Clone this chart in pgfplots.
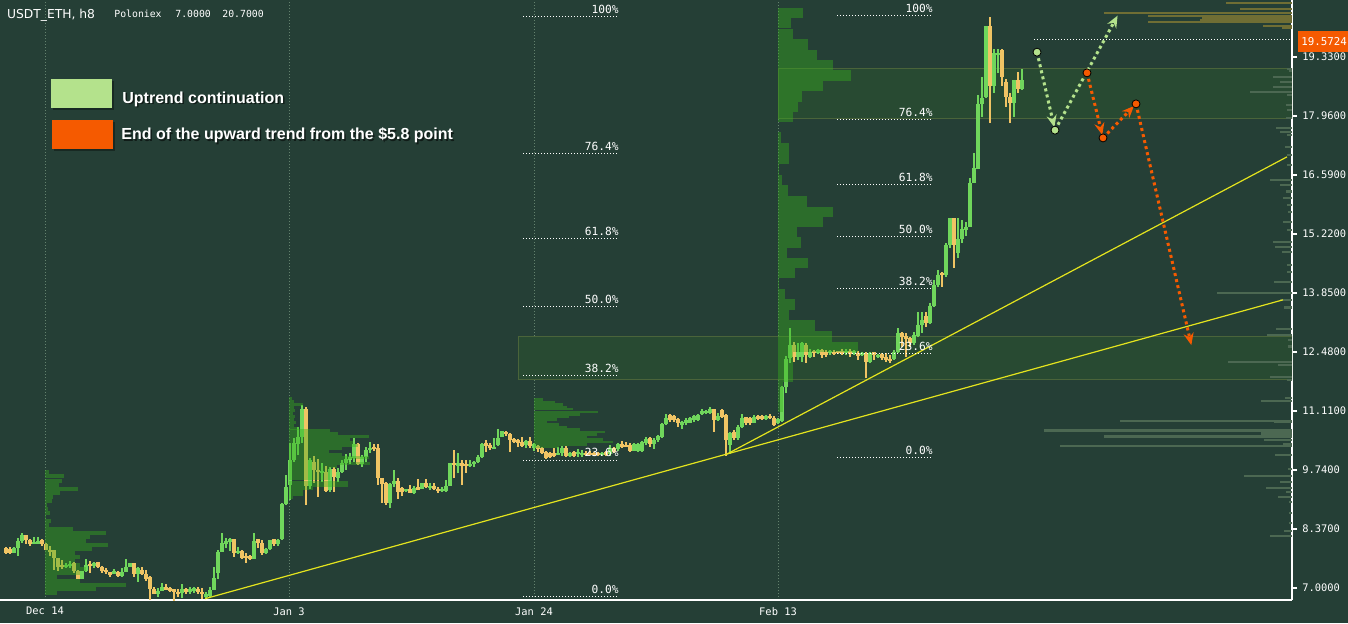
\documentclass[border=0pt]{standalone}
\usepackage{fontspec}
\setmainfont{DejaVu Sans}
\newfontfamily\monof{DejaVu Sans Mono}
\newfontfamily\legf{Liberation Sans}
\usepackage{pgfplots}
\usepackage{pgfplotstable}
\pgfplotsset{compat=1.18}
\usetikzlibrary{arrows.meta}

\definecolor{bg}{RGB}{37,63,54}
\definecolor{upc}{RGB}{112,214,92}
\definecolor{dnc}{RGB}{240,196,100}
\definecolor{vpc}{RGB}{55,175,30}
\definecolor{rvp}{RGB}{76,104,82}
\definecolor{olv}{RGB}{112,110,52}
\definecolor{zonef}{RGB}{40,74,50}
\definecolor{zoneb}{RGB}{74,100,58}
\definecolor{trend}{RGB}{228,228,30}
\definecolor{arrg}{RGB}{180,226,140}
\definecolor{arro}{RGB}{245,90,0}
\definecolor{gridc}{RGB}{100,130,110}

\newcommand\axf{\monof\fontsize{5.2}{6}\selectfont}
\newcommand\fibf{\monof\fontsize{5.6}{6.5}\selectfont}

\pgfplotstableread{
k o h l c
0 7.93 7.95 7.79 7.81
1 7.91 7.95 7.79 7.81
2 7.81 7.95 7.81 7.93
3 7.93 8.16 7.74 8.09
4 8.09 8.28 8.04 8.23
5 8.23 8.23 8.02 8.11
6 8.11 8.14 7.97 8.02
7 8.02 8.18 8.02 8.07
8 8.04 8.18 8.04 8.07
9 8.11 8.14 7.97 8.02
10 8.02 8.04 7.88 7.88
11 7.88 7.97 7.74 7.84
12 7.88 7.88 7.42 7.70
13 7.70 7.70 7.39 7.49
14 7.53 7.65 7.44 7.49
15 7.49 7.58 7.46 7.53
16 7.51 7.63 7.46 7.56
17 7.58 7.60 7.35 7.39
18 7.39 7.42 7.21 7.21
19 7.21 7.39 7.21 7.39
20 7.39 7.67 7.37 7.53
21 7.56 7.63 7.35 7.51
22 7.53 7.60 7.46 7.56
23 7.60 7.60 7.46 7.49
24 7.49 7.51 7.35 7.39
25 7.42 7.46 7.32 7.37
26 7.37 7.37 7.25 7.30
27 7.32 7.44 7.32 7.39
28 7.37 7.39 7.25 7.28
29 7.28 7.46 7.25 7.37
30 7.37 7.67 7.37 7.49
31 7.49 7.58 7.49 7.58
32 7.58 7.58 7.25 7.32
33 7.32 7.49 7.14 7.46
34 7.42 7.49 7.30 7.32
35 7.32 7.42 7.16 7.21
36 7.25 7.28 6.72 6.98
37 6.98 7.02 6.86 6.86
38 6.86 7.00 6.79 6.93
39 6.93 7.12 6.93 7.02
40 7.02 7.09 6.95 6.95
41 6.98 7.02 6.91 6.95
42 6.98 6.98 6.70 6.91
43 6.91 6.98 6.79 6.86
44 6.89 7.09 6.77 6.98
45 6.98 7.00 6.86 6.91
46 6.93 7.02 6.86 6.95
47 6.95 7.02 6.89 6.98
48 6.98 7.02 6.86 6.91
49 6.91 7.00 6.75 6.86
50 6.79 6.91 6.75 6.86
51 6.82 7.02 6.79 6.95
52 6.95 7.49 6.95 7.23
53 7.35 7.88 7.21 7.84
54 7.84 8.28 7.84 8.04
55 8.04 8.16 7.93 8.07
56 8.07 8.16 7.86 8.14
57 8.14 8.14 7.72 7.81
58 7.81 7.95 7.79 7.86
59 7.86 7.88 7.67 7.70
60 7.74 7.81 7.58 7.70
61 7.74 7.77 7.65 7.67
62 7.67 8.28 7.67 8.09
63 8.14 8.14 7.93 8.04
64 8.04 8.11 7.77 7.81
65 7.81 7.93 7.79 7.91
66 7.91 8.11 7.88 8.11
67 8.14 8.14 7.97 8.02
68 8.02 8.14 7.97 8.11
69 8.14 8.97 8.11 8.95
70 8.95 9.62 8.93 9.35
71 9.39 10.37 9.04 9.97
72 9.97 10.48 9.92 10.37
73 10.34 10.74 10.09 10.51
74 10.51 11.25 10.37 11.15
75 11.15 11.20 8.93 9.37
76 9.37 10.02 9.30 9.97
77 9.92 10.06 9.44 9.74
78 9.74 9.99 9.11 9.69
79 9.69 9.90 9.46 9.71
80 9.69 9.83 9.23 9.25
81 9.28 9.81 9.23 9.76
82 9.76 9.81 9.23 9.58
83 9.55 9.78 9.46 9.69
84 9.69 9.97 9.67 9.90
85 9.90 10.11 9.74 9.99
86 9.99 10.13 9.88 10.02
87 10.02 10.48 9.92 10.34
88 10.34 10.37 9.85 9.88
89 9.88 10.09 9.81 10.04
90 10.04 10.27 9.92 10.20
91 10.20 10.39 10.13 10.25
92 10.25 10.34 10.18 10.23
93 10.25 10.34 9.39 9.55
94 9.55 9.55 8.97 9.41
95 9.44 9.46 8.93 8.97
96 8.97 9.44 8.85 9.41
97 9.41 9.74 9.35 9.48
98 9.48 9.55 9.06 9.23
99 9.32 9.35 9.13 9.23
100 9.25 9.30 9.23 9.28
101 9.30 9.39 9.21 9.21
102 9.21 9.37 9.18 9.32
103 9.32 9.53 9.28 9.30
104 9.30 9.44 9.30 9.44
105 9.44 9.53 9.32 9.35
106 9.32 9.44 9.28 9.35
107 9.37 9.44 9.28 9.30
108 9.30 9.35 9.21 9.25
109 9.25 9.35 9.23 9.28
110 9.25 9.51 9.23 9.37
111 9.37 9.90 9.37 9.90
112 9.90 10.20 9.55 9.85
113 9.85 10.13 9.67 9.88
114 9.88 9.97 9.39 9.85
115 9.88 9.97 9.67 9.83
116 9.83 9.97 9.81 9.88
117 9.90 9.95 9.81 9.92
118 9.92 10.09 9.90 10.04
119 10.04 10.37 10.02 10.34
120 10.34 10.44 10.16 10.32
121 10.32 10.37 10.20 10.25
122 10.23 10.48 10.23 10.25
123 10.32 10.69 10.30 10.48
124 10.51 10.65 10.51 10.65
125 10.60 10.65 10.53 10.58
126 10.58 10.60 10.16 10.44
127 10.46 10.48 10.37 10.39
128 10.44 10.46 10.27 10.37
129 10.39 10.51 10.27 10.30
130 10.32 10.44 10.25 10.41
131 10.41 10.51 10.25 10.30
132 10.25 10.37 10.18 10.34
133 10.30 10.32 10.16 10.23
134 10.25 10.27 10.11 10.13
135 10.16 10.18 9.99 10.02
136 10.13 10.16 10.02 10.04
137 10.13 10.25 10.04 10.06
138 10.11 10.27 10.09 10.13
139 10.13 10.30 10.06 10.25
140 10.25 10.30 10.04 10.06
141 10.06 10.16 10.04 10.13
142 10.16 10.18 10.04 10.06
143 10.11 10.23 10.04 10.16
144 10.09 10.20 10.04 10.13
145 10.13 10.18 10.06 10.09
146 10.13 10.18 10.09 10.09
147 10.13 10.16 10.06 10.09
148 10.13 10.16 10.06 10.09
149 10.09 10.16 10.06 10.13
150 10.16 10.18 10.06 10.09
151 10.11 10.32 10.06 10.25
152 10.25 10.27 10.13 10.16
153 10.23 10.37 10.18 10.34
154 10.34 10.41 10.25 10.27
155 10.32 10.39 10.27 10.27
156 10.32 10.37 10.16 10.18
157 10.18 10.37 10.18 10.34
158 10.18 10.37 10.16 10.34
159 10.18 10.41 10.16 10.39
160 10.37 10.51 10.32 10.46
161 10.48 10.51 10.27 10.34
162 10.34 10.48 10.23 10.44
163 10.44 10.55 10.39 10.53
164 10.51 10.83 10.48 10.81
165 10.81 11.04 10.78 10.95
166 11.02 11.04 10.85 10.90
167 10.99 11.02 10.85 10.90
168 10.92 10.95 10.74 10.83
169 10.81 10.88 10.69 10.83
170 10.83 10.95 10.78 10.90
171 10.83 10.97 10.83 10.95
172 10.90 11.02 10.85 10.99
173 10.90 11.04 10.88 11.02
174 11.06 11.15 11.02 11.09
175 11.06 11.13 11.04 11.11
176 11.06 11.20 11.04 11.15
177 11.15 11.15 10.62 10.90
178 10.90 11.06 10.88 10.99
179 11.13 11.15 10.95 10.97
180 11.02 11.04 10.06 10.44
181 10.32 10.62 10.11 10.60
182 10.62 10.67 10.44 10.48
183 10.48 10.78 10.44 10.74
184 10.74 11.04 10.72 10.95
185 10.97 10.97 10.78 10.83
186 10.95 10.97 10.78 10.83
187 10.83 11.02 10.83 10.97
188 10.99 11.02 10.90 10.92
189 10.99 11.02 10.90 10.92
190 10.92 11.02 10.90 10.99
191 10.99 11.04 10.92 10.95
192 10.95 10.99 10.76 10.78
193 10.83 10.95 10.81 10.92
194 10.88 11.69 10.85 11.67
195 11.67 12.39 11.53 12.32
196 12.34 13.04 12.22 12.64
197 12.64 12.71 12.25 12.36
198 12.36 12.69 12.29 12.48
199 12.36 12.71 12.25 12.69
200 12.64 12.69 12.22 12.41
201 12.36 12.55 12.34 12.48
202 12.48 12.53 12.36 12.46
203 12.46 12.55 12.43 12.53
204 12.53 12.55 12.34 12.41
205 12.48 12.53 12.36 12.41
206 12.46 12.53 12.41 12.48
207 12.48 12.53 12.41 12.43
208 12.48 12.50 12.43 12.46
209 12.50 12.55 12.41 12.46
210 12.46 12.55 12.41 12.50
211 12.50 12.55 12.36 12.43
212 12.43 12.53 12.41 12.50
213 12.46 12.50 12.29 12.39
214 12.41 12.48 12.39 12.46
215 12.46 12.48 11.88 12.25
216 12.25 12.48 12.22 12.46
217 12.48 12.48 12.29 12.41
218 12.36 12.43 12.34 12.41
219 12.43 12.46 12.29 12.34
220 12.36 12.46 12.25 12.29
221 12.32 12.41 12.22 12.27
222 12.32 12.53 12.29 12.48
223 12.48 13.04 12.46 12.92
224 12.92 12.94 12.60 12.83
225 12.85 12.92 12.36 12.78
226 12.80 12.83 12.60 12.69
227 12.69 12.94 12.64 12.87
228 12.85 13.41 12.83 13.11
229 13.11 13.41 12.92 13.22
230 13.32 13.41 13.06 13.15
231 13.15 13.62 13.13 13.55
232 13.55 14.15 13.52 14.04
233 14.04 14.38 13.99 14.27
234 14.31 14.34 13.99 14.27
235 14.27 15.01 14.22 14.96
236 14.96 15.59 14.89 15.59
237 15.59 15.59 14.43 14.96
238 14.78 15.59 14.66 15.10
239 15.10 15.54 15.01 15.34
240 15.31 15.50 15.17 15.38
241 15.38 16.52 15.38 16.40
242 16.40 17.10 16.40 16.75
243 16.73 18.45 16.73 18.24
244 18.24 18.86 17.94 18.38
245 18.40 20.05 18.38 20.05
246 20.05 20.26 17.80 18.66
247 18.66 19.51 18.49 19.42
248 19.38 19.51 18.96 19.42
249 19.49 19.51 18.66 18.86
250 18.75 18.82 18.17 18.40
251 18.40 18.49 17.80 18.26
252 18.26 18.80 17.94 18.80
253 18.80 18.98 18.49 18.59
254 18.59 19.05 18.56 18.80
}\candles

% volume profile Dec 14 (price, length in bars)
\pgfplotstableread{
p v
9.69 1
9.60 4.75
9.48 4.25
9.39 3.5
9.30 8.25
9.21 3.75
9.11 2
9.02 1.75
8.93 0.5
8.83 0.75
8.74 1.25
8.65 0.25
8.55 1.5
8.46 1
8.37 7
8.28 15.25
8.18 11.25
8.09 10.25
8.00 15.75
7.91 11.75
7.81 7.5
7.72 8.75
7.63 7.5
7.53 8.75
7.44 10.25
7.35 8.75
7.25 3
7.16 8.75
7.07 20.25
6.98 12.75
6.88 3
}\vpA

\pgfplotstableread{
p v
11.41 0.75
11.34 1.25
11.27 3.5
11.20 1.25
11.13 1.5
11.06 1
10.99 1.5
10.92 1.25
10.85 1.75
10.78 1.25
10.71 2.5
10.65 10.25
10.58 12.25
10.51 20
10.44 15.25
10.37 16
10.30 17.25
10.23 13.25
10.16 10
10.09 13.25
10.02 20
9.95 15
9.88 20.25
9.81 12
9.74 10.25
9.67 10.25
9.60 10.25
9.53 10.25
9.46 14.75
9.39 14.75
9.32 6
9.25 3.5
9.18 3.5
9.11 1
}\vpB

\pgfplotstableread{
p v
11.38 2.25
11.32 5.25
11.26 7.25
11.20 8.25
11.15 9.75
11.09 16
11.03 11.5
10.97 8.75
10.91 5.75
10.85 3.25
10.80 6.25
10.74 8.25
10.68 11.5
10.62 17.75
10.56 15.75
10.51 13.25
10.45 17.25
10.39 19.75
10.33 13.25
10.27 6.25
}\vpC

\pgfplotstableread{
p v
20.35 6.25
20.12 3.25
19.86 3.75
19.62 7.5
19.38 9.75
19.14 13.75
18.90 18.25
18.66 11.25
18.41 6
18.17 5
17.94 3.75
17.46 0.75
17.22 2.75
16.97 2.75
16.72 0.25
16.47 1
16.23 2.5
15.97 7.25
15.73 13.75
15.50 11.25
15.27 4.75
15.02 5.75
14.78 2.25
14.55 7.5
14.31 4.25
14.07 0.25
13.83 1.75
13.58 4.25
13.34 2.75
13.09 9.25
12.84 13.5
12.60 20
12.36 3.75
12.13 3.75
11.90 3.75
11.67 1.25
11.43 1.25
11.20 1.25
}\vpD

\pgfplotstableread{
p v
19.05 1.25
19.00 0.75
18.86 4.75
18.75 3
18.63 4.75
18.52 10.5
18.45 1.25
18.21 1.5
18.10 1.25
17.91 1.5
17.68 4
17.59 3
17.52 1.25
17.24 1.75
17.05 1.25
16.82 1.25
16.47 5.5
16.36 3
16.21 1.5
16.05 2.25
15.89 1.25
15.73 1
15.50 2.25
15.31 1.25
15.03 4.75
14.92 4.25
14.80 2.5
14.50 1.25
14.34 1.25
14.10 4.5
13.85 18.75
13.69 3
13.51 2
13.01 4
12.87 6.25
12.76 1
12.60 1
12.25 16
12.18 3.5
11.90 5.5
11.83 1.25
11.41 1.75
11.34 7.75
10.88 43
10.85 4.5
10.65 62
10.58 7.75
10.51 47
10.44 7
10.34 2.25
10.30 58
10.09 4.25
9.76 1
9.60 12
9.46 3
9.32 6.5
9.23 1.5
9.11 3.5
9.00 0.75
8.74 0.75
8.51 0.75
8.32 2
8.21 5.5
}\vpR

\pgfplotstableread{
p v
20.58 16.5
20.44 13
20.35 47
20.28 36
20.23 22.5
20.19 23
20.14 36
20.05 7.25
20.00 2.5
}\vpO

\begin{document}
\begin{tikzpicture}
\fill[bg] (0,0) rectangle (674pt,311.5pt);
\begin{axis}[
  at={(0pt,11.5pt)}, anchor=south west, scale only axis,
  width=646pt, height=300pt,
  xmin=-1.5, xmax=321.5, ymin=6.72, ymax=20.652,
  axis x line*=bottom, axis y line*=right,
  axis line style={white, line width=0.6pt, -},
  ytick={7,8.37,9.74,11.11,12.48,13.85,15.22,16.59,17.96,19.33},
  /pgf/number format/assume math mode=true,
  yticklabel style={/pgf/number format/.cd, fixed, fixed zerofill, precision=4, /tikz/.cd,
     font=\axf, text=white, anchor=west, inner sep=0pt, xshift=2.5pt},
  xtick={9.75,70.75,132,193},
  xticklabels={Dec 14, Jan 3, Jan 24, Feb 13},
  xticklabel style={font=\axf, text=white, anchor=north, inner sep=0pt, yshift=-1pt},
  xtick style={draw=none},
  ytick style={white, line width=0.6pt},
  major tick length=2.5pt, tick align=outside,
  xmajorgrids,
  major grid style={gridc, line width=0.5pt, dash pattern=on 0.5pt off 1pt},
]
% zones
\addplot[fill=zonef, draw=zoneb, line width=0.5pt] coordinates {(193,17.91) (321.5,17.91) (321.5,19.07) (193,19.07)} -- cycle;
\addplot[fill=zonef, draw=zoneb, line width=0.5pt] coordinates {(128,11.85) (321.5,11.85) (321.5,12.85) (128,12.85)} -- cycle;

% candles: wicks
\addplot[draw=none, mark=none, restrict expr to domain={\thisrow{c}-\thisrow{o}}{0:100},
  error bars/.cd, y dir=both, y explicit, error mark=none, error bar style={draw=upc, line width=0.55pt}]
  table[x=k, y expr={(\thisrow{h}+\thisrow{l})/2}, y error expr={(\thisrow{h}-\thisrow{l})/2}] {\candles};
\addplot[draw=none, mark=none, restrict expr to domain={\thisrow{c}-\thisrow{o}}{-100:-0.001},
  error bars/.cd, y dir=both, y explicit, error mark=none, error bar style={draw=dnc, line width=0.55pt}]
  table[x=k, y expr={(\thisrow{h}+\thisrow{l})/2}, y error expr={(\thisrow{h}-\thisrow{l})/2}] {\candles};
% candles: bodies
\addplot[draw=none, mark=none, restrict expr to domain={\thisrow{c}-\thisrow{o}}{0:100},
  error bars/.cd, y dir=both, y explicit, error mark=none, error bar style={draw=upc, line width=1.6pt}]
  table[x=k, y expr={(\thisrow{o}+\thisrow{c})/2}, y error expr={max(abs(\thisrow{c}-\thisrow{o})/2,0.025)}] {\candles};
\addplot[draw=none, mark=none, restrict expr to domain={\thisrow{c}-\thisrow{o}}{-100:-0.001},
  error bars/.cd, y dir=both, y explicit, error mark=none, error bar style={draw=dnc, line width=1.6pt}]
  table[x=k, y expr={(\thisrow{o}+\thisrow{c})/2}, y error expr={max(abs(\thisrow{c}-\thisrow{o})/2,0.025)}] {\candles};

% volume profiles
\addplot[draw=none, mark=none, error bars/.cd, x dir=plus, x explicit, error mark=none,
  error bar style={draw=vpc, line width=2pt, opacity=0.42}] table[x expr=9.75, y=p, x error=v] {\vpA};
\addplot[draw=none, mark=none, error bars/.cd, x dir=plus, x explicit, error mark=none,
  error bar style={draw=vpc, line width=1.5pt, opacity=0.42}] table[x expr=70.75, y=p, x error=v] {\vpB};
\addplot[draw=none, mark=none, error bars/.cd, x dir=plus, x explicit, error mark=none,
  error bar style={draw=vpc, line width=1.25pt, opacity=0.42}] table[x expr=132, y=p, x error=v] {\vpC};
\addplot[draw=none, mark=none, error bars/.cd, x dir=plus, x explicit, error mark=none,
  error bar style={draw=vpc, line width=5.2pt, opacity=0.42}] table[x expr=193, y=p, x error=v] {\vpD};
\addplot[draw=none, mark=none, error bars/.cd, x dir=minus, x explicit, error mark=none,
  error bar style={draw=rvp, line width=1.3pt}] table[x expr=321.5, y=p, x error=v] {\vpR};
\addplot[draw=none, mark=none, error bars/.cd, x dir=minus, x explicit, error mark=none,
  error bar style={draw=olv, line width=0.7pt}] table[x expr=321.5, y=p, x error=v] {\vpO};

% trend lines
\addplot[trend, line width=0.6pt] coordinates {(49.75,6.75) (319.25,13.69)};
\addplot[trend, line width=0.6pt] coordinates {(180.25,10.11) (320.25,17.01)};

% fibonacci set 1
\pgfplotsset{fibl/.style={white, line width=0.5pt, dash pattern=on 0.5pt off 1pt}}
\addplot[fibl] coordinates {(129.25,6.79) (153.25,6.79)};
\addplot[fibl] coordinates {(129.25,9.97) (153.25,9.97)};
\addplot[fibl] coordinates {(129.25,11.94) (153.25,11.94)};
\addplot[fibl] coordinates {(129.25,13.53) (153.25,13.53)};
\addplot[fibl] coordinates {(129.25,15.12) (153.25,15.12)};
\addplot[fibl] coordinates {(129.25,17.08) (153.25,17.08)};
\addplot[fibl] coordinates {(129.25,20.26) (153.25,20.26)};
\node[anchor=south east, inner sep=0pt, yshift=1.3pt, font=\fibf, text=white] at (axis cs:153.25,6.79) {0.0\%};
\node[anchor=south east, inner sep=0pt, yshift=1.3pt, font=\fibf, text=white] at (axis cs:153.25,9.97) {23.6\%};
\node[anchor=south east, inner sep=0pt, yshift=1.3pt, font=\fibf, text=white] at (axis cs:153.25,11.94) {38.2\%};
\node[anchor=south east, inner sep=0pt, yshift=1.3pt, font=\fibf, text=white] at (axis cs:153.25,13.53) {50.0\%};
\node[anchor=south east, inner sep=0pt, yshift=1.3pt, font=\fibf, text=white] at (axis cs:153.25,15.12) {61.8\%};
\node[anchor=south east, inner sep=0pt, yshift=1.3pt, font=\fibf, text=white] at (axis cs:153.25,17.08) {76.4\%};
\node[anchor=south east, inner sep=0pt, yshift=1.3pt, font=\fibf, text=white] at (axis cs:153.25,20.26) {100\%};
% fibonacci set 2
\addplot[fibl] coordinates {(207.75,10.02) (231.75,10.02)};
\addplot[fibl] coordinates {(207.75,12.45) (231.75,12.45)};
\addplot[fibl] coordinates {(207.75,13.95) (231.75,13.95)};
\addplot[fibl] coordinates {(207.75,15.16) (231.75,15.16)};
\addplot[fibl] coordinates {(207.75,16.37) (231.75,16.37)};
\addplot[fibl] coordinates {(207.75,17.87) (231.75,17.87)};
\addplot[fibl] coordinates {(207.75,20.30) (231.75,20.30)};
\node[anchor=south east, inner sep=0pt, yshift=1.3pt, font=\fibf, text=white] at (axis cs:231.75,10.02) {0.0\%};
\node[anchor=south east, inner sep=0pt, yshift=1.3pt, font=\fibf, text=white] at (axis cs:231.75,12.45) {23.6\%};
\node[anchor=south east, inner sep=0pt, yshift=1.3pt, font=\fibf, text=white] at (axis cs:231.75,13.95) {38.2\%};
\node[anchor=south east, inner sep=0pt, yshift=1.3pt, font=\fibf, text=white] at (axis cs:231.75,15.16) {50.0\%};
\node[anchor=south east, inner sep=0pt, yshift=1.3pt, font=\fibf, text=white] at (axis cs:231.75,16.37) {61.8\%};
\node[anchor=south east, inner sep=0pt, yshift=1.3pt, font=\fibf, text=white] at (axis cs:231.75,17.87) {76.4\%};
\node[anchor=south east, inner sep=0pt, yshift=1.3pt, font=\fibf, text=white] at (axis cs:231.75,20.30) {100\%};

% last price line
\addplot[white, line width=0.5pt, dash pattern=on 0.5pt off 1pt] coordinates {(257,19.74) (321.5,19.74)};

% scenario arrows
\pgfplotsset{arr/.style={line width=1.5pt, dash pattern=on 1.5pt off 1.6pt, -{Stealth[length=6pt,width=5pt]}, shorten >=1.5pt}}
\addplot[arrg, arr] coordinates {(257.75,19.44) (262.25,17.63)};
\addplot[arrg, arr] coordinates {(262.25,17.63) (278.25,20.35)};
\addplot[only marks, mark=*, mark size=2pt, mark options={draw=none, fill=arrg}] coordinates {(257.75,19.44) (262.25,17.63)};
\addplot[arro, arr] coordinates {(270.25,18.96) (274.25,17.45)};
\addplot[arro, arr] coordinates {(274.25,17.45) (282.5,18.24)};
\addplot[arro, arr] coordinates {(282.5,18.24) (296.5,12.57)};
\addplot[only marks, mark=*, mark size=2pt, mark options={draw=none, fill=arro}] coordinates {(270.25,18.96) (274.25,17.45) (282.5,18.24)};
\end{axis}

% overlays in pixel coordinates
\begin{scope}[x=0.5pt, y=-0.5pt, yshift=311.5pt]
\node[anchor=base west, inner sep=0pt, font=\fontsize{6.15}{7}\selectfont, text=white] at (6.7,18.3) {USDT\_ETH, h8};
\node[anchor=base west, inner sep=0pt, font=\monof\fontsize{4.9}{6}\selectfont, text=white] at (114,17.7) {Poloniex};
\node[anchor=base west, inner sep=0pt, font=\monof\fontsize{4.9}{6}\selectfont, text=white] at (175,17.7) {7.0000};
\node[anchor=base west, inner sep=0pt, font=\monof\fontsize{4.9}{6}\selectfont, text=white] at (222,17.7) {20.7000};
% legend
\fill[black, opacity=0.35] (53,81) rectangle (114,110);
\fill[arrg] (51,79) rectangle (112,108);
\fill[black, opacity=0.35] (54,122) rectangle (115,151);
\fill[arro] (52,120) rectangle (113,149);
\node[anchor=base west, inner sep=0pt, font=\legf\bfseries\fontsize{8}{9}\selectfont, text=black, opacity=0.55] at (123.5,104.5) {Uptrend continuation};
\node[anchor=base west, inner sep=0pt, font=\legf\bfseries\fontsize{8}{9}\selectfont, text=white] at (122,103) {Uptrend continuation};
\node[anchor=base west, inner sep=0pt, font=\legf\bfseries\fontsize{8}{9}\selectfont, text=black, opacity=0.55] at (122.5,141) {End of the upward trend from the \$5.8 point};
\node[anchor=base west, inner sep=0pt, font=\legf\bfseries\fontsize{8}{9}\selectfont, text=white] at (121,139.5) {End of the upward trend from the \$5.8 point};
% price tag
\fill[arro] (1298,31) rectangle (1348,52);
\node[anchor=base west, inner sep=0pt, font=\monof\fontsize{5.4}{6}\selectfont, text=white] at (1301,45.5) {19.5724};
\end{scope}
\pgfresetboundingbox
\useasboundingbox (0,0) rectangle (674pt,311.5pt);
\end{tikzpicture}
\end{document}
